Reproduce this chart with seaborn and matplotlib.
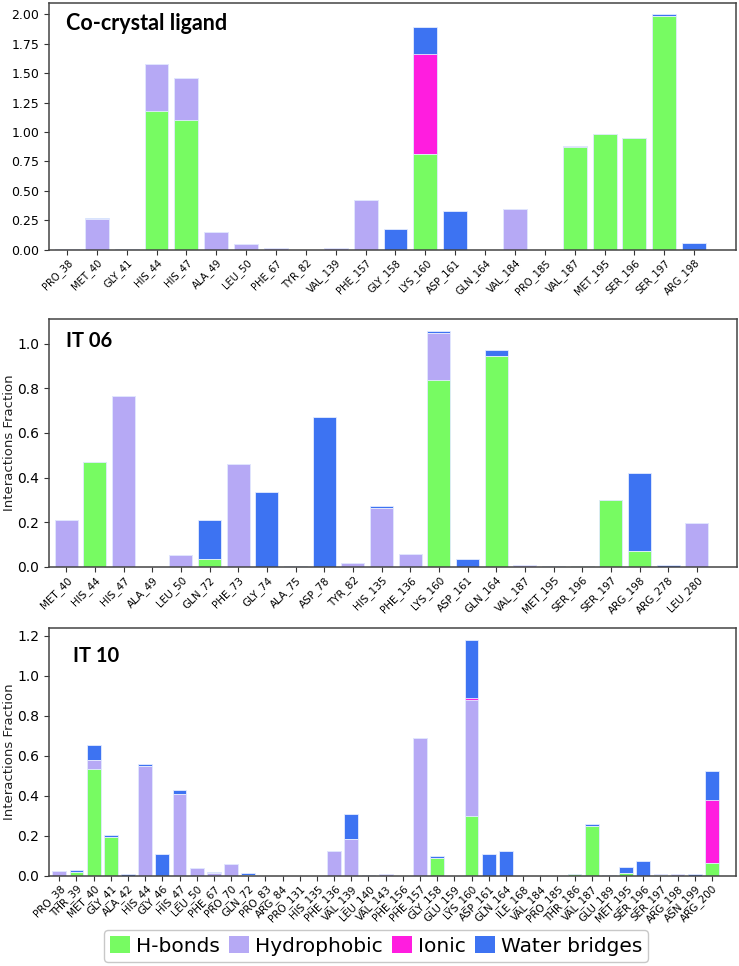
import numpy as np
import pandas as pd
import matplotlib
matplotlib.use("Agg")
import matplotlib.pyplot as plt
from matplotlib.patches import Patch
import seaborn as sns

# ---------------- data ----------------
co_res = ["PRO_38", "MET_40", "GLY_41", "HIS_44", "HIS_47", "ALA_49", "LEU_50", "PHE_67",
          "TYR_82", "VAL_139", "PHE_157", "GLY_158", "LYS_160", "ASP_161", "GLN_164",
          "VAL_184", "PRO_185", "VAL_187", "MET_195", "SER_196", "SER_197", "ARG_198"]
co_hb = [0, 0, 0, 1.175, 1.10, 0, 0, 0, 0, 0, 0, 0, 0.815, 0, 0, 0, 0, 0.87, 0.98, 0.95, 1.99, 0]
co_hy = [0.005, 0.26, 0, 0.40, 0.36, 0.15, 0.05, 0.015, 0, 0.015, 0.42, 0, 0, 0, 0, 0.35, 0, 0.008, 0, 0, 0, 0]
co_io = [0, 0, 0, 0, 0, 0, 0, 0, 0, 0, 0, 0, 0.85, 0, 0, 0, 0, 0, 0, 0, 0, 0]
co_wb = [0, 0.01, 0.005, 0, 0, 0, 0, 0, 0, 0, 0, 0.18, 0.23, 0.325, 0, 0, 0, 0, 0, 0, 0.01, 0.06]

it06_res = ["MET_40", "HIS_44", "HIS_47", "ALA_49", "LEU_50", "GLN_72", "PHE_73", "GLY_74",
            "ALA_75", "ASP_78", "TYR_82", "HIS_135", "PHE_136", "LYS_160", "ASP_161", "GLN_164",
            "VAL_187", "MET_195", "SER_196", "SER_197", "ARG_198", "ARG_278", "LEU_280"]
it06_hb = [0, 0.47, 0, 0, 0, 0.035, 0, 0, 0, 0, 0, 0, 0, 0.835, 0, 0.945, 0, 0, 0.003, 0.30, 0.07, 0, 0]
it06_hy = [0.21, 0, 0.765, 0, 0.055, 0, 0.46, 0, 0, 0, 0.018, 0.265, 0.057, 0.21, 0, 0, 0.007, 0, 0, 0, 0, 0, 0.197]
it06_io = [0] * 23
it06_wb = [0, 0, 0, 0, 0, 0.175, 0, 0.335, 0.005, 0.67, 0, 0.007, 0, 0.012, 0.038, 0.027, 0, 0.004, 0, 0, 0.35, 0.01, 0]

it10_res = ["PRO_38", "THR_39", "MET_40", "GLY_41", "ALA_42", "HIS_44", "GLY_46", "HIS_47",
            "LEU_50", "PHE_67", "PRO_70", "GLN_72", "PRO_83", "ARG_84", "PRO_131", "HIS_135",
            "PHE_136", "VAL_139", "LEU_140", "VAL_143", "PHE_156", "PHE_157", "GLY_158", "GLU_159",
            "LYS_160", "ASP_161", "GLN_164", "ILE_168", "VAL_184", "PRO_185", "THR_186", "VAL_187",
            "GLU_189", "MET_195", "SER_196", "SER_197", "ARG_198", "ASN_199", "ARG_200"]
it10_hb = [0, 0.02, 0.535, 0.195, 0, 0, 0, 0, 0, 0, 0, 0.004, 0, 0, 0, 0,
           0, 0, 0, 0, 0, 0, 0.09, 0, 0.30, 0, 0, 0, 0, 0, 0.007, 0.25,
           0, 0.015, 0, 0.005, 0, 0, 0.065]
it10_hy = [0.025, 0, 0.045, 0, 0, 0.55, 0, 0.41, 0.04, 0.012, 0.058, 0, 0, 0, 0, 0,
           0.125, 0.185, 0, 0.007, 0, 0.69, 0, 0, 0.58, 0, 0, 0, 0, 0, 0, 0,
           0, 0, 0, 0.005, 0.01, 0, 0]
it10_io = [0] * 24 + [0.01] + [0] * 13 + [0.315]
it10_wb = [0, 0.008, 0.075, 0.01, 0.007, 0.007, 0.107, 0.02, 0, 0.005, 0, 0.008, 0, 0, 0, 0,
           0, 0.125, 0.003, 0, 0, 0, 0.01, 0, 0.29, 0.11, 0.125, 0, 0, 0, 0, 0.007,
           0.006, 0.03, 0.072, 0, 0, 0.007, 0.145]

categories = ["H-bonds", "Hydrophobic", "Ionic", "Water bridges"]
colors = ["#77fb62", "#b6a9f5", "#ff1ddf", "#3d73f2"]

panels = [
    ("Co-crystal ligand", co_res, co_hb, co_hy, co_io, co_wb),
    ("IT 06", it06_res, it06_hb, it06_hy, it06_io, it06_wb),
    ("IT 10", it10_res, it10_hb, it10_hy, it10_io, it10_wb),
]

# ---------------- figure ----------------
W, H = 739, 966
fig = plt.figure(figsize=(W / 100, H / 100), dpi=100)

boxes = [(49, 2.7, 736, 249.7), (49, 319, 737, 567), (49, 628, 736, 875.7)]
title_off = [(17, 27), (17, 28), (24, 34)]
title_fs = [15.5, 14.5, 14.5]
ytick_fs = [9, 10, 10]
xtick_fs = [7.2, 7.5, 7.5]

for i, (title, res, hb, hy, io, wb) in enumerate(panels):
    l, t, r, b = boxes[i]
    ax = fig.add_axes([l / W, 1 - b / H, (r - l) / W, (b - t) / H])
    df = pd.DataFrame({"residue": res, "H-bonds": hb, "Hydrophobic": hy,
                       "Ionic": io, "Water bridges": wb})
    cum = df[categories].cumsum(axis=1)
    # draw from top of stack down so lower segments overlay
    for cat, col in reversed(list(zip(categories, colors))):
        sns.barplot(x=df["residue"], y=cum[cat], color=col, order=res, ax=ax,
                    errorbar=None, width=0.8, edgecolor="#e4ecff", linewidth=0.6,
                    saturation=1)
    n = len(res)
    ax.set_xlim(-0.6, n - 1 + 1.4)
    total = cum["Water bridges"].max()
    ax.set_ylim(0, total * 1.05)
    ax.set_xlabel("")
    if i == 0:
        ax.set_ylabel("")
        ax.yaxis.set_major_locator(matplotlib.ticker.MultipleLocator(0.25))
        ax.yaxis.set_major_formatter(matplotlib.ticker.FormatStrFormatter("%.2f"))
    else:
        ax.set_ylabel("Interactions Fraction", fontsize=9.5, color="#222222", va="center")
        ax.yaxis.set_label_coords((9 - l) / (r - l), 0.5)
        ax.yaxis.set_major_locator(matplotlib.ticker.MultipleLocator(0.2))
    ax.tick_params(axis="y", labelsize=ytick_fs[i], length=3.5, color="#333333")
    ax.tick_params(axis="x", labelsize=xtick_fs[i], length=3.5, color="#333333", pad=2)
    plt.setp(ax.get_xticklabels(), rotation=45, ha="right", rotation_mode="anchor")
    for sp in ax.spines.values():
        sp.set_color("#444444")
        sp.set_linewidth(1.1)
    ax.annotate(title, xy=(0, 1), xycoords="axes fraction",
                xytext=(title_off[i][0], -title_off[i][1]), textcoords="offset pixels",
                ha="left", va="baseline", fontsize=title_fs[i], fontweight="bold",
                family=["Lato", "DejaVu Sans"], color="black")

handles = [Patch(facecolor=c, edgecolor="none", label=lab) for lab, c in zip(categories, colors)]
fig.legend(handles=handles, loc="center", bbox_to_anchor=(376 / W, 1 - 946 / H), ncol=4,
           fontsize=14.5, frameon=True, fancybox=True, edgecolor="#c8c8c8",
           handlelength=1.0, handleheight=0.9, handletextpad=0.3, columnspacing=0.45,
           borderpad=0.3, framealpha=1)

fig.savefig("out.png", dpi=100)
